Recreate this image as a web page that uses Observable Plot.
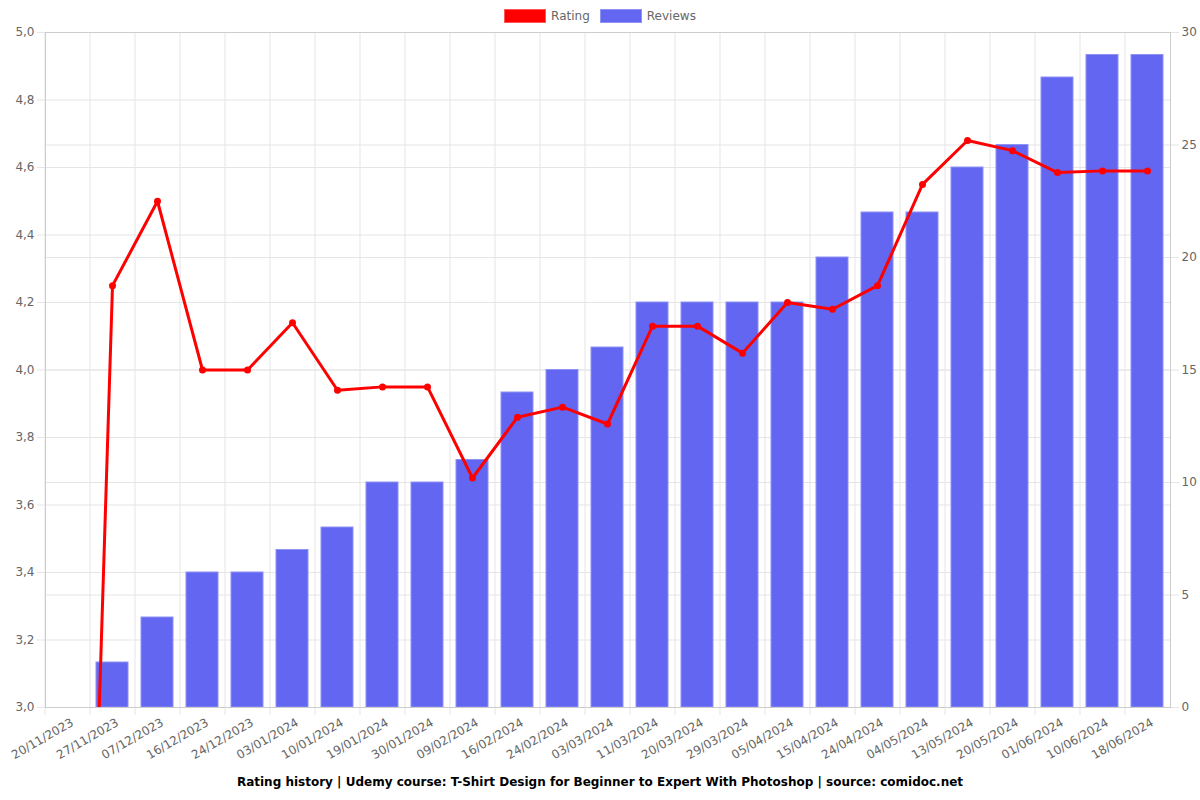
<!DOCTYPE html>
<html>
<head>
<meta charset="utf-8">
<script src="https://cdn.jsdelivr.net/npm/d3@7"></script>
<script src="https://cdn.jsdelivr.net/npm/@observablehq/plot@0.6"></script>
<style>
  html, body { margin: 0; padding: 0; background: #fff; }
  body { font-family: "DejaVu Sans", sans-serif; }
  #wrap { position: relative; width: 1200px; height: 800px; overflow: hidden; }
  #legend { position: absolute; top: 8px; left: 0; width: 1200px; display: flex; justify-content: center; gap: 10px; font-size: 12px; color: #666; }
  .item { display: flex; align-items: center; gap: 5px; height: 16px; }
  .sw { width: 40px; height: 12px; border-width: 1px; border-style: solid; }
  #caption { position: absolute; top: 775px; left: 0; width: 1200px; text-align: center; font-size: 12px; font-weight: bold; color: #000; }
  #chart { position: absolute; top: 0; left: 0; }
</style>
</head>
<body>
<div id="wrap">
  <div id="chart"></div>
  <div id="legend"></div>
  <div id="caption">Rating history | Udemy course: T-Shirt Design for Beginner to Expert With Photoshop | source: comidoc.net</div>
</div>
<script>
const dates = ["20/11/2023","27/11/2023","07/12/2023","16/12/2023","24/12/2023","03/01/2024","10/01/2024","19/01/2024","30/01/2024","09/02/2024","16/02/2024","24/02/2024","03/03/2024","11/03/2024","20/03/2024","29/03/2024","05/04/2024","15/04/2024","24/04/2024","04/05/2024","13/05/2024","20/05/2024","01/06/2024","10/06/2024","18/06/2024"];
const reviews = [0,2,4,6,6,7,8,10,10,11,14,15,16,18,18,18,18,20,22,22,24,25,28,29,29];
const ratings = [0,4.25,4.5,4.0,4.0,4.14,3.94,3.95,3.95,3.68,3.86,3.89,3.84,4.13,4.13,4.05,4.2,4.18,4.25,4.55,4.68,4.65,4.585,4.59,4.59];
const leftTicks = [3.0,3.2,3.4,3.6,3.8,4.0,4.2,4.4,4.6,4.8,5.0];
const rightTicks = [0,5,10,15,20,25,30];
const seriesNames = ["Rating","Reviews"];
const seriesColors = {Rating: "#ff0000", Reviews: "#6366f1"};
const seriesBorders = {Rating: "#ff5555", Reviews: "#8f91f5"};

const ratingDomain = [3, 5];
const reviewDomain = [0, 30];
// map the review count (right axis) onto the rating scale (left axis)
const toY = v => ratingDomain[0] + (v - reviewDomain[0]) * (ratingDomain[1] - ratingDomain[0]) / (reviewDomain[1] - reviewDomain[0]);
const fromY = y => Math.round(reviewDomain[0] + (y - ratingDomain[0]) * (reviewDomain[1] - reviewDomain[0]) / (ratingDomain[1] - ratingDomain[0]));

const data = dates.map((d, i) => ({date: d, reviews: reviews[i], rating: ratings[i]}));

const W = 1200, H = 800;
const mL = 45, mR = 30, mT = 32, mB = 93;
const step = (W - mL - mR) / dates.length;
const grid = "#e5e5e5";
const axisLine = "#cccccc";

const chart = Plot.plot({
  width: W, height: H,
  marginLeft: mL, marginRight: mR, marginTop: mT, marginBottom: mB,
  style: {fontFamily: "DejaVu Sans, sans-serif", fontSize: "12px", background: "#fff"},
  x: {type: "band", domain: dates, paddingInner: 0.28, paddingOuter: 0.14, align: 0.5},
  y: {domain: ratingDomain},
  marks: [
    Plot.ruleY(leftTicks, {y: d => d, stroke: grid}),
    Plot.ruleY(rightTicks, {y: d => toY(d), stroke: grid}),
    Plot.ruleX(dates, {x: d => d, dx: -step / 2, stroke: grid, insetBottom: -8}),
    Plot.barY(data.filter(d => d.reviews > 0), {x: "date", y1: ratingDomain[0], y2: d => toY(d.reviews), fill: seriesColors.Reviews, stroke: seriesBorders.Reviews, strokeWidth: 1}),
    Plot.line(data, {x: "date", y: "rating", stroke: seriesColors.Rating, strokeWidth: 3, clip: true}),
    Plot.dot(data, {x: "date", y: "rating", r: 3.5, fill: seriesColors.Rating, stroke: "none", clip: true}),
    Plot.frame({stroke: axisLine}),
    Plot.axisY(leftTicks, {anchor: "left", tickFormat: d => d.toFixed(1).replace(".", ","), tickSize: 8, tickPadding: 3, stroke: grid, fill: "#666", label: null}),
    Plot.axisY(rightTicks.map(toY), {anchor: "right", tickFormat: d => String(fromY(d)), tickSize: 8, tickPadding: 3, stroke: grid, fill: "#666", label: null}),
    Plot.axisX(dates, {tickRotate: -30, tickSize: 0, tickPadding: 14, dx: 5, fill: "#666", label: null})
  ]
});
document.getElementById("chart").appendChild(chart);

const legend = document.getElementById("legend");
for (const name of seriesNames) {
  const item = document.createElement("div");
  item.className = "item";
  const sw = document.createElement("span");
  sw.className = "sw";
  sw.style.background = seriesColors[name];
  sw.style.borderColor = seriesBorders[name];
  const t = document.createElement("span");
  t.textContent = name;
  item.appendChild(sw); item.appendChild(t);
  legend.appendChild(item);
}
</script>
</body>
</html>
